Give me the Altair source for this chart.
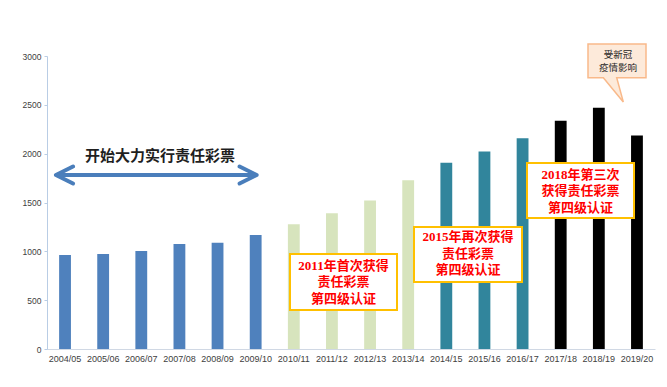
import altair as alt
import pandas as pd

# ---- data ----
seasons = ["2004/05", "2005/06", "2006/07", "2007/08", "2008/09", "2009/10",
           "2010/11", "2011/12", "2012/13", "2013/14", "2014/15", "2015/16",
           "2016/17", "2017/18", "2018/19", "2019/20"]
sales = [962, 972, 1003, 1075, 1089, 1166, 1278, 1391, 1520, 1728,
         1908, 2023, 2159, 2337, 2469, 2187]
bar_colors = ["#4F81BD", "#4F81BD", "#4F81BD", "#4F81BD", "#4F81BD", "#4F81BD",
              "#D7E4BD", "#D7E4BD", "#D7E4BD", "#D7E4BD",
              "#31859C", "#31859C", "#31859C",
              "#000000", "#000000", "#000000"]
y_ticks = [0, 500, 1000, 1500, 2000, 2500, 3000]

arrow_label = "开始大力实行责任彩票"
box1_lines = ["2011年首次获得", "责任彩票", "第四级认证"]
box2_lines = ["2015年再次获得", "责任彩票", "第四级认证"]
box3_lines = ["2018年第三次", "获得责任彩票", "第四级认证"]
callout_line1 = "受新冠"
callout_line2 = "疫情影响"

df = pd.DataFrame({"season": seasons, "sales": sales, "color": bar_colors})
one = pd.DataFrame({"k": [0]})

W, H = 608, 293
LABEL_FONT = "Liberation Sans"
CJK = "Liberation Serif, Noto Sans CJK SC"

bars = alt.Chart(df).mark_bar().encode(
    x=alt.X("season:N", sort=None, title=None,
            scale=alt.Scale(paddingInner=0.69, paddingOuter=0.318),
            axis=alt.Axis(labelAngle=0, ticks=False, labelFontSize=9,
                          labelFont=LABEL_FONT, labelColor="#404040",
                          domainColor="#D0D8E4", labelPadding=5)),
    y=alt.Y("sales:Q", title=None,
            scale=alt.Scale(domain=[0, 3000], nice=False),
            axis=alt.Axis(values=y_ticks, grid=False, tickSize=3, format="d",
                          tickColor="#B9CDE5", domainColor="#B9CDE5",
                          labelFontSize=8.5, labelFont=LABEL_FONT,
                          labelColor="#404040", labelPadding=3)),
    color=alt.Color("color:N", scale=None),
)

# double-headed arrow
arrow_path = ("M-1,0L1,0M-0.83,-0.085L-1,0L-0.83,0.085"
              "M0.83,-0.085L1,0L0.83,0.085")
arrow = alt.Chart(one).mark_point(
    shape=arrow_path, filled=False, stroke="#4A7EBB", strokeWidth=4,
    strokeCap="round", strokeJoin="round", size=200.7 ** 2, opacity=1
).encode(x=alt.value(109.3), y=alt.value(119))

arrow_text = alt.Chart(one).mark_text(
    text=arrow_label, font="Noto Sans CJK SC", fontSize=15, fontWeight="bold",
    color="#1F1F1F", align="center", baseline="middle"
).encode(x=alt.value(113), y=alt.value(100))


def box(x0, x1, y0, y1, first_line_y, lines):
    rect = alt.Chart(one).mark_rect(
        fill="white", stroke="#FFC000", strokeWidth=2
    ).encode(x=alt.value(x0), x2=alt.value(x1), y=alt.value(y0), y2=alt.value(y1))
    txt = alt.Chart(one).mark_text(
        text=lines, font=CJK, fontSize=13, fontWeight="bold", color="#FF0000",
        align="center", baseline="middle", lineHeight=16.5
    ).encode(x=alt.value((x0 + x1) / 2), y=alt.value(first_line_y))
    return rect + txt


box1 = box(243, 350, 198, 254, 209.5, box1_lines)
box2 = box(367, 475, 171, 226, 181, box2_lines)
box3 = box(480, 587, 107, 162, 118.5, box3_lines)

callout_path = ("M-1,-1L1,-1L1,0.166L-0.01,0.166L0.217,1L-0.47,0.166"
                "L-1,0.166Z")
callout = alt.Chart(one).mark_point(
    shape=callout_path, filled=True, fill="#FDEADA", stroke="#F9B98A",
    strokeWidth=1.5, size=58 ** 2, opacity=1, fillOpacity=1
).encode(x=alt.value(570), y=alt.value(16.9))


def callout_txt(t, y):
    return alt.Chart(one).mark_text(
        text=t, font="Noto Sans CJK SC", fontSize=9.5, color="#262626",
        align="center", baseline="middle"
    ).encode(x=alt.value(571), y=alt.value(y))


callout_text = callout_txt(callout_line1, -1.5) + callout_txt(callout_line2, 12)

chart = alt.layer(
    bars, arrow, arrow_text, box1, box2, box3, callout, callout_text
).properties(
    width=W, height=H,
    autosize=alt.AutoSizeParams(type="none"),
    padding={"left": 39, "top": 48, "right": 4, "bottom": 28},
    background="white",
).configure_view(stroke=None)

chart.save("out.html", embed_options={"renderer": "svg", "actions": False})
